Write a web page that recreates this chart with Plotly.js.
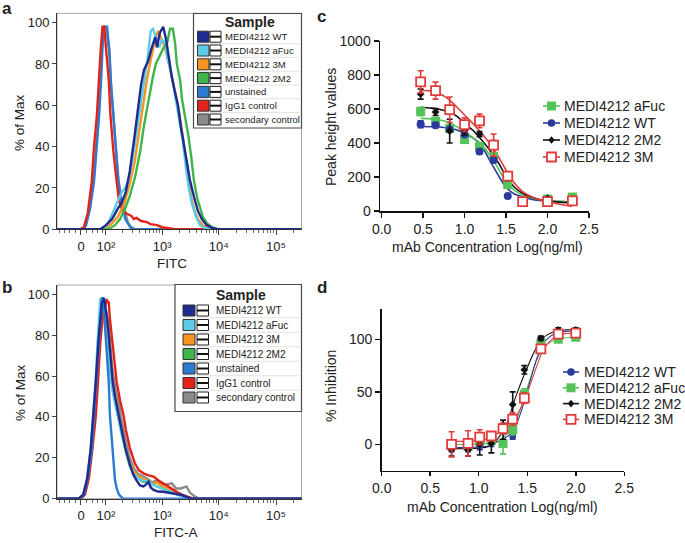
<!DOCTYPE html>
<html><head><meta charset="utf-8">
<script src="https://cdn.plot.ly/plotly-3.0.1.min.js"></script>
<style>html,body{margin:0;padding:0;background:#fff}#chart{width:685px;height:543px}</style>
</head><body><div id="chart"></div>
<script>
// ================= DATA =================
const sampleNames = ['MEDI4212 WT','MEDI4212 aFuc','MEDI4212 3M','MEDI4212 2M2','unstained','IgG1 control','secondary control'];
const sampleColors = ['#1e2b8f','#5ccbe8','#f7941d','#3db54a','#2b7bd0','#e2231a','#8a8a8a'];
// FITC axis: channel positions (decade units) of the labelled intensities
const fitcTickChannels = [0, 0.44, 1.43, 2.43, 3.44];
const fitcTickLabels = ['0','10²','10³','10⁴','10⁵'];
const fitcMinorValues = [-80,-60,-40,-20,20,40,60,80,200,300,400,500,600,700,800,900,2000,3000,4000,5000,6000,7000,8000,9000,20000,30000,40000,50000,60000,70000,80000,90000,200000];
const pctTicks = [0,20,40,60,80,100];

// ---- panel a histograms (x: FITC channel, y: % of max) ----
const aWT_x = [-0.42,0.34,0.44,0.55,0.65,0.72,0.79,0.86,0.93,1.01,1.06,1.11,1.18,1.25,1.31,1.34,1.39,1.45,1.50,1.55,1.60,1.66,1.71,1.76,1.82,1.87,1.92,1.99,2.06,2.13,2.22,2.33,2.42,3.90];
const aWT_y = [0,0,2,5,10,13,18,28,42,58,70,77,81,88,93,88,95,98,92,83,74,66,60,50,40,31,24,16,9,5,2,0.5,0,0];
const aAFuc_x = [-0.42,0.39,0.48,0.56,0.65,0.72,0.78,0.83,0.90,0.97,1.04,1.11,1.18,1.23,1.27,1.32,1.38,1.43,1.48,1.53,1.59,1.64,1.69,1.75,1.80,1.85,1.90,1.96,2.03,2.10,2.19,2.28,3.90];
const aAFuc_y = [0,0,3,8,14,18,20,23,32,45,60,72,84,96,97,93,88,92,90,82,76,68,60,52,42,30,20,12,6,2,0.5,0,0];
const a3M_x = [-0.42,0.42,0.55,0.65,0.76,0.86,0.95,1.02,1.09,1.16,1.23,1.31,1.36,1.41,1.48,1.55,1.62,1.68,1.73,1.78,1.83,1.89,1.94,1.99,2.06,2.15,2.24,2.31,3.90];
const a3M_y = [0,0,3,6,12,22,33,46,60,72,82,92,96,93,88,80,72,64,57,48,38,27,16,10,5,2,0.5,0,0];
const a2M2_x = [-0.42,0.48,0.60,0.69,0.78,0.86,0.95,1.04,1.11,1.16,1.22,1.27,1.32,1.39,1.46,1.52,1.57,1.62,1.66,1.69,1.75,1.78,1.83,1.89,1.94,1.99,2.05,2.10,2.15,2.22,2.31,2.42,3.90];
const a2M2_y = [0,0,2,5,10,16,25,37,50,58,66,74,80,84,88,90,97,97,90,80,72,63,56,46,36,24,15,10,6,3,1,0,0];
const aUnst_x = [-0.42,0.04,0.09,0.16,0.23,0.28,0.32,0.36,0.38,0.41,0.46,0.48,0.50,0.53,0.57,0.62,0.66,0.71,0.75,0.78,0.82,0.88,0.95,3.90];
const aUnst_y = [0,0,2,10,23,40,55,75,88,98,98,92,87,70,55,37,23,14,10,5,3,0.5,0,0];
const aIgG_x = [-0.42,-0.02,0.05,0.12,0.19,0.23,0.28,0.32,0.35,0.38,0.41,0.44,0.49,0.52,0.57,0.63,0.67,0.72,0.76,0.81,0.89,0.93,0.98,1.06,1.16,1.23,1.34,1.43,1.52,1.66,3.90];
const aIgG_y = [0,0,1,8,23,40,55,75,88,98,98,88,72,55,38,23,14,10,8.5,7.5,6.5,5,5.5,4,3.5,2.5,2,1,0.5,0,0];
const aSec_x = [-0.42,0.03,0.08,0.15,0.22,0.27,0.31,0.35,0.37,0.40,0.45,0.48,0.50,0.53,0.57,0.62,0.66,0.71,0.75,0.79,0.83,0.89,0.96,3.90];
const aSec_y = [0,0,2,10,23,40,55,76,89,97,97,90,85,70,55,38,24,15,11,6,3,1,0,0];

// ---- panel b histograms ----
const bWT_x = [-0.42,-0.04,0.04,0.11,0.17,0.22,0.26,0.31,0.34,0.37,0.41,0.44,0.46,0.49,0.51,0.56,0.60,0.66,0.72,0.78,0.86,0.92,0.98,1.04,1.10,1.15,1.19,1.23,1.28,1.36,1.45,1.53,1.63,1.78,1.92,2.01,3.90];
const bWT_y = [0,0,2,10,24,40,57,78,88,96,98,93,88,80,73,57,50,41,34,25,17,12,9,6.5,6,7,8.3,5.5,4.3,3.5,3.4,3,2.6,1.8,0.3,0,0];
const bAFuc_x = [-0.42,-0.04,0.04,0.11,0.17,0.21,0.26,0.29,0.32,0.34,0.38,0.41,0.44,0.48,0.51,0.56,0.62,0.67,0.72,0.79,0.86,0.93,1.01,1.08,1.16,1.25,1.34,1.43,1.52,1.60,1.71,1.82,1.92,3.90];
const bAFuc_y = [0,0,2,10,24,40,58,76,88,98,96,88,80,72,62,52,44,37,31,24,17,12,10,9,8.5,7,6,5,4,3,2,0.8,0,0];
const b3M_x = [-0.42,-0.02,0.05,0.12,0.19,0.24,0.28,0.33,0.36,0.40,0.42,0.46,0.49,0.53,0.56,0.62,0.67,0.72,0.79,0.86,0.93,1.01,1.08,1.16,1.25,1.34,1.43,1.52,1.60,1.71,1.82,1.92,3.90];
const b3M_y = [0,0,2,10,24,40,58,76,88,95,93,86,76,65,57,48,40,33,24,18,13.5,11,10,9,7,8,6,5,4,2.5,1,0,0];
const b2M2_x = [-0.42,-0.02,0.05,0.12,0.19,0.24,0.28,0.33,0.36,0.40,0.42,0.46,0.49,0.53,0.56,0.62,0.67,0.72,0.79,0.86,0.93,1.01,1.08,1.16,1.25,1.34,1.43,1.52,1.60,1.71,1.82,1.92,3.90];
const b2M2_y = [0,0,2,10,24,40,58,76,88,95,93,86,75,63,54,45,38,31,23,16,12,10,8.5,8,7.5,6,5,4,3,2,1,0,0];
const bUnst_x = [-0.42,-0.02,0.05,0.12,0.19,0.23,0.28,0.32,0.35,0.37,0.39,0.42,0.45,0.49,0.51,0.55,0.57,0.60,0.63,0.67,0.74,3.90];
const bUnst_y = [0,0,2,10,24,40,57,78,90,98,98,85,73,57,41,27,16,9,5,2,0,0];
const bIgG_x = [-0.42,0,0.07,0.14,0.20,0.26,0.30,0.34,0.38,0.42,0.46,0.49,0.51,0.57,0.63,0.69,0.75,0.79,0.86,0.95,1.02,1.10,1.18,1.28,1.36,1.45,1.53,1.63,1.71,1.80,1.89,1.98,3.90];
const bIgG_y = [0,0,2,10,24,40,57,76,88,94,97,96,88,73,57,48,41,34,25,17.3,14,12.4,11.5,10.8,9,7.5,6,4.3,3,1.8,0.8,0,0];
const bSec_x = [-0.42,-0.02,0.05,0.12,0.19,0.24,0.28,0.33,0.36,0.41,0.44,0.48,0.51,0.56,0.62,0.67,0.72,0.79,0.86,0.93,1.01,1.08,1.16,1.25,1.34,1.43,1.52,1.60,1.68,1.76,1.86,1.92,2.01,2.10,3.90];
const bSec_y = [0,0,2,10,24,40,58,76,88,94,92,86,76,62,52,46,38,28,20,15,12,11,10,8,9,7,7,7.5,5,5,6,3,1,0,0];

// ---- panel c: peak height vs log concentration ----
const cX = [0.47,0.65,0.82,1.00,1.18,1.35,1.52,1.70,2.00,2.30];
const cAFuc = [585,528,486,420,378,320,155,60,70,82];
const cAFucErr = [25,20,20,15,20,20,15,5,5,8];
const cWT = [510,505,480,450,350,300,88,55,65,62];
const cWTErr = [20,15,10,10,15,15,5,5,5,5];
const c2M2 = [688,582,470,472,452,390,195,55,75,68];
const c2M2Err = [30,20,70,25,15,25,15,5,5,5];
const c3M = [760,708,596,508,530,388,205,55,55,60];
const c3MErr = [65,50,75,40,40,65,20,10,8,8];
const cFitX = [0.47,0.6,0.7,0.8,0.9,1.0,1.1,1.2,1.3,1.4,1.5,1.6,1.7,1.8,1.9,2.0,2.15,2.3];
const cFitAFuc = [545,542,535,522,498,466,432,395,330,255,172,122,94,78,68,62,57,55];
const cFitWT = [497,496,494,488,478,455,430,385,300,215,140,100,84,70,62,58,55,53];
const cFit2M2 = [610,605,597,585,560,516,475,420,360,290,205,140,104,82,68,60,52,48];
const cFit3M = [710,705,690,660,615,565,515,460,400,325,240,165,114,85,67,55,40,28];
const cLegendNames = ['MEDI4212 aFuc','MEDI4212 WT','MEDI4212 2M2','MEDI4212 3M'];

// ---- panel d: % inhibition vs log concentration ----
const dX = [0.72,0.89,1.01,1.13,1.25,1.35,1.47,1.64,1.82,2.00];
const dWT = [-3,-3,-1,2,18,8,45,100,107,108];
const dWTErr = [4,4,4,4,5,3,4,3,2,2];
const dAFuc = [-1,-2,3,4,1,14,48,96,100,102];
const dAFucErr = [4,4,4,4,10,5,5,3,2,2];
const d2M2 = [-5,-5,0,1,14,38,71,101,109,109];
const d2M2Err = [6,6,10,9,9,12,4,2,2,2];
const d3M = [0,1,7,8,15,24,44,91,105,106];
const d3MErr = [12,12,7,4,5,6,5,3,2,2];
const dFitX = [0.72,0.9,1.0,1.1,1.2,1.3,1.35,1.4,1.45,1.5,1.55,1.6,1.65,1.7,1.8,1.9,2.0];
const dFitWT = [-3,-3,-2.5,-1.5,3,8,13,22,35,51,67,82,93,100,106,107.5,108];
const dFitAFuc = [0,0,0.5,1,3,11,17,26,39,54,68,81,90,95,100,101.5,102];
const dFit2M2 = [-4,-4,-3.5,-2,6,22,37,50,62,73,84,93,100,104,108,109,109];
const dFit3M = [3,3,4,6,11,17,22,29,38,49,62,75,87,95,103,105.5,106];
const dLegendNames = ['MEDI4212 WT','MEDI4212 aFuc','MEDI4212 2M2','MEDI4212 3M'];

// ================= DRAWING =================
const FONT = '"Liberation Sans", Arial, Helvetica, sans-serif';
const W = 685, H = 543;
const PX = v => v / W, PY = v => 1 - v / H;

const colWT = '#2a3a9e', colAF = '#56c25a', col2M2 = '#111111', col3M = '#e33b3b';

function fitcChannel(v) {
  if (Math.abs(v) < 100) return fitcTickChannels[1] * Math.asinh(v / 75.8) / Math.asinh(100 / 75.8);
  const n = Math.floor(Math.log10(v));
  const i = n - 1;
  const p0 = fitcTickChannels[i];
  const step = (i + 1 < fitcTickChannels.length) ? fitcTickChannels[i + 1] - p0 : 1.0;
  return p0 + step * Math.log10(v / Math.pow(10, n));
}
const fitcMinorChannels = fitcMinorValues.map(fitcChannel);

const traces = [];
function hist(xa, ya, x, y, color) {
  traces.push({type:'scatter', mode:'lines', x, y, xaxis:xa, yaxis:ya,
    line:{color, width:2.4}, showlegend:false, hoverinfo:'skip'});
}
// panel a (controls first, WT last)
hist('x','y', aSec_x, aSec_y, sampleColors[6]);
hist('x','y', aUnst_x, aUnst_y, sampleColors[4]);
hist('x','y', aIgG_x, aIgG_y, sampleColors[5]);
hist('x','y', a3M_x, a3M_y, sampleColors[2]);
hist('x','y', aAFuc_x, aAFuc_y, sampleColors[1]);
hist('x','y', a2M2_x, a2M2_y, sampleColors[3]);
hist('x','y', aWT_x, aWT_y, sampleColors[0]);
// panel b
hist('x2','y2', bSec_x, bSec_y, sampleColors[6]);
hist('x2','y2', b2M2_x, b2M2_y, sampleColors[3]);
hist('x2','y2', b3M_x, b3M_y, sampleColors[2]);
hist('x2','y2', bAFuc_x, bAFuc_y, sampleColors[1]);
hist('x2','y2', bIgG_x, bIgG_y, sampleColors[5]);
hist('x2','y2', bUnst_x, bUnst_y, sampleColors[4]);
hist('x2','y2', bWT_x, bWT_y, sampleColors[0]);

function fit(xa, ya, x, y, color, w) {
  traces.push({type:'scatter', mode:'lines', x, y, xaxis:xa, yaxis:ya,
    line:{color, width:w, shape:'spline', smoothing:1}, showlegend:false, hoverinfo:'skip'});
}
function pts(xa, ya, x, y, err, color, symbol, size, open) {
  traces.push({type:'scatter', mode:'markers', x, y, xaxis:xa, yaxis:ya,
    error_y:{type:'data', array:err, visible:true, color, thickness:1.6, width:3},
    marker:{symbol, size, color: open ? '#ffffff' : color, line:{color, width: open ? 1.8 : 0}},
    showlegend:false, hoverinfo:'skip'});
}
// panel c
fit('x3','y3', cFitX, cFitWT, colWT, 1.6);
fit('x3','y3', cFitX, cFitAFuc, colAF, 1.6);
fit('x3','y3', cFitX, cFit2M2, col2M2, 1.6);
fit('x3','y3', cFitX, cFit3M, col3M, 1.6);
pts('x3','y3', cX, cAFuc, cAFucErr, colAF, 'square', 9, false);
pts('x3','y3', cX, cWT, cWTErr, colWT, 'circle', 8, false);
pts('x3','y3', cX, c2M2, c2M2Err, col2M2, 'diamond', 6, false);
pts('x3','y3', cX, c3M, c3MErr, col3M, 'square', 9, true);
// panel d
fit('x4','y4', dFitX, dFitAFuc, colAF, 1.1);
fit('x4','y4', dFitX, dFitWT, colWT, 1.1);
fit('x4','y4', dFitX, dFit2M2, col2M2, 1.1);
fit('x4','y4', dFitX, dFit3M, col3M, 1.1);
pts('x4','y4', dX, dWT, dWTErr, colWT, 'circle', 7, false);
pts('x4','y4', dX, dAFuc, dAFucErr, colAF, 'square', 9, false);
pts('x4','y4', dX, d2M2, d2M2Err, col2M2, 'diamond', 6, false);
pts('x4','y4', dX, d3M, d3MErr, col3M, 'square', 9, true);

function fitcAxis(anchor) {
  return {domain:[PX(57), PX(301.5)], anchor, range:[-0.423, 3.889],
    tickmode:'array', tickvals:fitcTickChannels, ticktext:fitcTickLabels,
    ticks:'outside', ticklen:5, tickwidth:1, tickcolor:'#444', ticklabelstandoff:0,
    minor:{tickmode:'array', tickvals:fitcMinorChannels, ticks:'outside', ticklen:3, tickcolor:'#666', showgrid:false},
    showline:true, linecolor:'#333', linewidth:1, showgrid:false, zeroline:false,
    tickfont:{size:13, color:'#222', family:FONT}, fixedrange:true};
}
function pctAxis(anchor, top, bottom) {
  return {domain:[PY(bottom), PY(top)], anchor, range:[0, 104.5],
    tickmode:'array', tickvals:pctTicks, ticks:'outside', ticklen:4, tickcolor:'#444',
    showline:true, linecolor:'#333', linewidth:1, showgrid:false, zeroline:false,
    tickfont:{size:13, color:'#222', family:FONT}, fixedrange:true};
}
function prismAxis(extra) {
  return Object.assign({ticks:'outside', ticklen:5, tickwidth:1.5, tickcolor:'#111',
    showline:true, linecolor:'#111', linewidth:1.5, showgrid:false, zeroline:false,
    tickfont:{size:14, color:'#222', family:FONT}, fixedrange:true}, extra);
}

const shapes = [];
const annotations = [];
function ann(text, x, y, size, opts) {
  annotations.push(Object.assign({text, x:PX(x), y:PY(y), xref:'paper', yref:'paper', showarrow:false,
    xanchor:'center', yanchor:'middle', borderpad:0, font:{size, color:'#222', family:FONT}}, opts || {}));
}

// frames of flow panels
['', '2'].forEach(s => shapes.push({type:'rect', xref:'x'+s+' domain', yref:'y'+s+' domain', x0:0, x1:1, y0:0, y1:1,
  line:{color:'#a8a8a8', width:1}, layer:'below'}));

// sample legends (panels a and b)
function sampleLegend(box, headerX, headerY, row0, step, sqX, wbX, textX, fs) {
  shapes.push({type:'rect', xref:'paper', yref:'paper', x0:PX(box[0]), x1:PX(box[2]), y0:PY(box[3]), y1:PY(box[1]),
    fillcolor:'#ffffff', line:{color:'#4a4a4a', width:1.2}});
  ann('<b>Sample</b>', headerX, headerY, 14);
  sampleNames.forEach((name, i) => {
    const yc = row0 + i * step;
    if (i < sampleNames.length - 1) {
      shapes.push({type:'line', xref:'paper', yref:'paper', x0:PX(sqX[0]), x1:PX(box[2] - 2), y0:PY(yc + step/2), y1:PY(yc + step/2),
        line:{color:'#e2e2e2', width:1}});
    }
    shapes.push({type:'rect', xref:'paper', yref:'paper', x0:PX(sqX[0]), x1:PX(sqX[1]), y0:PY(yc + 5.5), y1:PY(yc - 5.5),
      fillcolor:sampleColors[i], line:{color:'#333', width:1}});
    shapes.push({type:'rect', xref:'paper', yref:'paper', x0:PX(wbX[0]), x1:PX(wbX[1]), y0:PY(yc + 5.5), y1:PY(yc - 5.5),
      fillcolor:'#ffffff', line:{color:'#222', width:1}});
    shapes.push({type:'line', xref:'paper', yref:'paper', x0:PX(wbX[0]), x1:PX(wbX[1]), y0:PY(yc), y1:PY(yc),
      line:{color:'#111', width:2}});
    ann(name, textX, yc, fs, {xanchor:'left'});
  });
}
sampleLegend([193.5, 13.5, 301.5, 128], 250, 22, 36.7, 13.8, [197.5, 209], [210, 221], 224, 9.5);
sampleLegend([175, 284.5, 301.5, 411.5], 241, 294.5, 310.5, 14.5, [183, 195], [197, 208.5], 215, 10);

// curve legends (panels c and d)
function markerShape(kind, color, cx, cy) {
  const s = [];
  if (kind === 'square' || kind === 'open') {
    s.push({type:'rect', xref:'paper', yref:'paper', x0:PX(cx - 4.5), x1:PX(cx + 4.5), y0:PY(cy + 4.5), y1:PY(cy - 4.5),
      fillcolor: kind === 'open' ? '#ffffff' : color, line:{color, width: kind === 'open' ? 1.8 : 0}});
  } else if (kind === 'circle') {
    s.push({type:'circle', xref:'paper', yref:'paper', x0:PX(cx - 3.8), x1:PX(cx + 3.8), y0:PY(cy + 3.8), y1:PY(cy - 3.8),
      fillcolor: color, line:{color, width:0}});
  } else {
    const p = `M ${PX(cx)} ${PY(cy - 3.8)} L ${PX(cx + 3.2)} ${PY(cy)} L ${PX(cx)} ${PY(cy + 3.8)} L ${PX(cx - 3.2)} ${PY(cy)} Z`;
    s.push({type:'path', xref:'paper', yref:'paper', path:p, fillcolor:color, line:{color, width:0}});
  }
  return s;
}
function curveLegend(names, colors, kinds, x0, x1, textX, row0, step) {
  names.forEach((name, i) => {
    const yc = row0 + i * step;
    shapes.push({type:'line', xref:'paper', yref:'paper', x0:PX(x0), x1:PX(x1), y0:PY(yc), y1:PY(yc), line:{color:colors[i], width:1.6}});
    markerShape(kinds[i], colors[i], (x0 + x1) / 2, yc).forEach(s => shapes.push(s));
    ann(name, textX, yc, 14, {xanchor:'left'});
  });
}
curveLegend(cLegendNames, [colAF, colWT, col2M2, col3M], ['square','circle','diamond','open'], 543, 560, 563, 106, 17);
curveLegend(dLegendNames, [colWT, colAF, col2M2, col3M], ['circle','square','diamond','open'], 563, 579, 583, 372, 15.8);

// titles
ann('% of Max', 20, 123, 13.5, {textangle:-90});
ann('FITC', 172, 263, 13.5);
ann('% of Max', 20, 393, 13.5, {textangle:-90});
ann('FITC-A', 176, 532, 13.5);
ann('Peak height values', 331, 127, 14, {textangle:-90});
ann('mAb Concentration Log(ng/ml)', 487, 247, 14);
ann('% Inhibition', 331, 386, 14, {textangle:-90});
ann('mAb Concentration Log(ng/ml)', 502, 507, 14);
// panel letters
ann('<b>a</b>', 7, 9, 17);
ann('<b>b</b>', 7, 287, 17);
ann('<b>c</b>', 321, 16, 17);
ann('<b>d</b>', 321.5, 287, 17);

const layout = {
  width:W, height:H, margin:{l:0, r:0, t:0, b:0}, paper_bgcolor:'#ffffff', plot_bgcolor:'rgba(0,0,0,0)',
  showlegend:false, hovermode:false, font:{family:FONT, color:'#222'},
  xaxis: fitcAxis('y'),
  yaxis: pctAxis('x', 13.3, 229.3),
  xaxis2: fitcAxis('y2'),
  yaxis2: pctAxis('x2', 285, 498.7),
  xaxis3: prismAxis({domain:[PX(380), PX(589)], anchor:'y3', range:[-0.02, 2.5], tickmode:'array', tickvals:[0,0.5,1,1.5,2,2.5], tickformat:'.1f'}),
  yaxis3: prismAxis({domain:[PY(211), PY(41)], anchor:'x3', range:[0, 1000], tickmode:'array', tickvals:[0,200,400,600,800,1000]}),
  xaxis4: prismAxis({domain:[PX(381.7), PX(624.3)], anchor:'y4', range:[0, 2.5], tickmode:'array', tickvals:[0,0.5,1,1.5,2,2.5], tickformat:'.1f', ticklen:4}),
  yaxis4: prismAxis({domain:[PY(470.7), PY(309.3)], anchor:'x4', range:[-25, 128.6], tickmode:'array', tickvals:[0,50,100]}),
  shapes, annotations
};
Plotly.newPlot('chart', traces, layout, {displayModeBar:false, staticPlot:true});
</script>
</body></html>
